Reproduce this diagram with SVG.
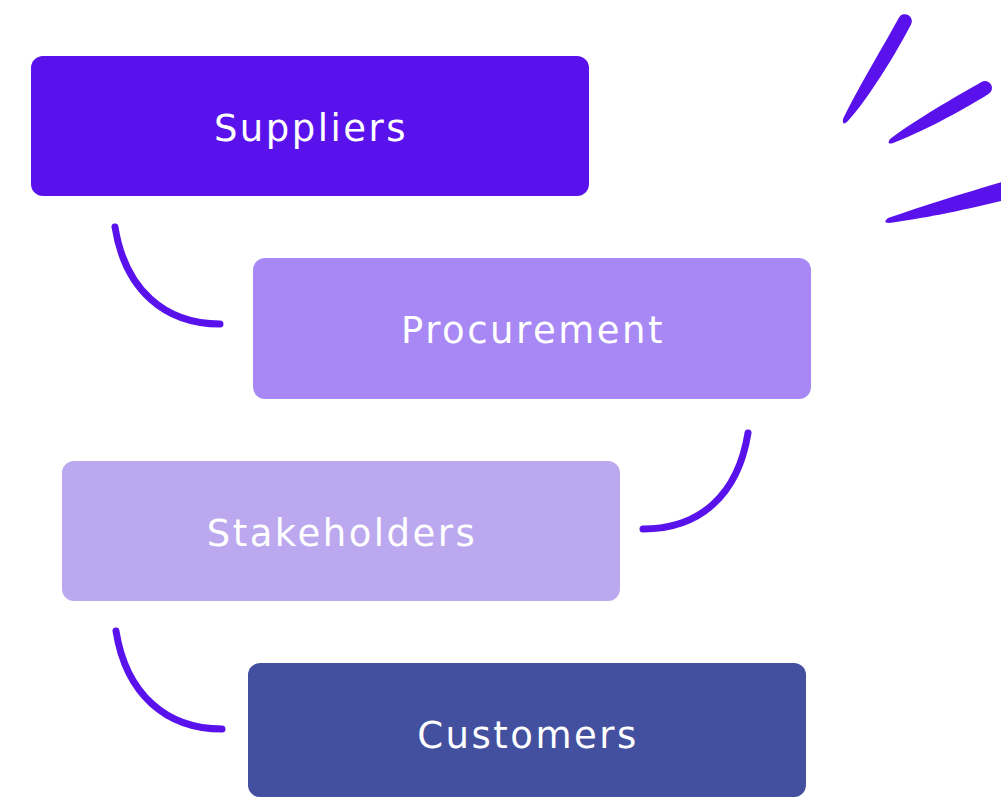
<svg xmlns="http://www.w3.org/2000/svg" width="1001" height="798" viewBox="0 0 1001 798">
  <style>
    .box-label { font-family: "DejaVu Sans", "Liberation Sans", sans-serif; font-size: 37px; letter-spacing: 2.5px; fill: #ffffff; text-anchor: middle; }
    .link { fill: none; stroke: #5912EC; stroke-width: 7; stroke-linecap: round; }
    .spark { fill: #5912EC; }
  </style>
  <rect width="1001" height="798" fill="#ffffff"/>

  <g id="suppliers">
    <rect x="31" y="56" width="558" height="140" rx="12" fill="#5912EC"/>
    <text class="box-label" x="311" y="141">Suppliers</text>
  </g>
  <g id="procurement">
    <rect x="253" y="258" width="558" height="141" rx="12" fill="#A788F4"/>
    <text class="box-label" x="533" y="343">Procurement</text>
  </g>
  <g id="stakeholders">
    <rect x="62" y="461" width="558" height="140" rx="12" fill="#BCA8EE"/>
    <text class="box-label" x="342" y="546">Stakeholders</text>
  </g>
  <g id="customers">
    <rect x="248" y="663" width="558" height="134" rx="12" fill="#43509F"/>
    <text class="box-label" x="528" y="748">Customers</text>
  </g>

  <g id="connectors">
    <path class="link" d="M115,227 C125,290 165,324 220,324"/>
    <path class="link" d="M748,433 C738,495 700,529 643,529"/>
    <path class="link" d="M116,631 C126,694 166,729 222,729"/>
  </g>

  <g id="sparks">
    <path class="spark" d="M899,17.4 A7,7 0 0 1 911,24.6 C898,50 868,100 847,122 Q842,126 843,119 C858,88 884,45 899,17.4 Z"/>
    <path class="spark" d="M981.5,81.9 A7,7 0 0 1 988.5,94.1 C960,112 920,133 893,143 Q886,145 890,139 C915,120 955,97 981.5,81.9 Z"/>
    <path class="spark" d="M1005,181 L1005,200 C965,210 920,219 889,223 Q882,223 888,218 C925,205 965,193 1005,181 Z"/>
  </g>
</svg>
